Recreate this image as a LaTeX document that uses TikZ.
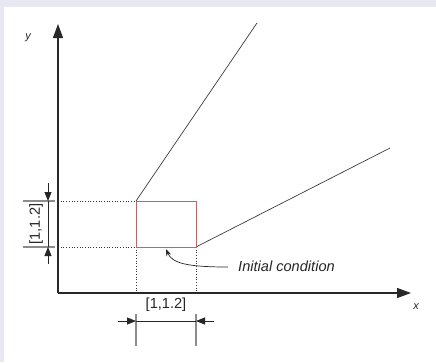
\documentclass[tikz,border=0pt]{standalone}
\usepackage{fontspec}
\setmainfont{Liberation Sans}
\usetikzlibrary{arrows.meta}
\definecolor{bgl}{RGB}{232,232,242}
\definecolor{rectred}{RGB}{192,100,100}
\definecolor{dimgray}{RGB}{140,140,140}
\definecolor{axis}{RGB}{40,40,40}
\tikzset{
  axisline/.style={axis, line width=1.1pt, -{Triangle[length=14pt,width=10pt]}},
  ray/.style={draw=axis!90, line width=0.7pt},
  guide/.style={draw=black!80, dotted, line width=0.7pt},
  tick/.style={draw=dimgray, line width=1.4pt},
  dimline/.style={draw=black!85, line width=0.8pt},
  dimarrow/.style={-{Triangle[length=9pt,width=7pt]}, draw=black!85, line width=0.8pt},
  lbl/.style={font=\fontsize{14.6}{16}\selectfont, inner sep=0pt, text=black!85},
  axlbl/.style={font=\fontsize{11}{13}\selectfont\itshape, inner sep=0pt, text=black!85},
}
\begin{document}
\begin{tikzpicture}[x=1pt,y=-1pt]
\fill[bgl] (0,0) rectangle (436,362);
\fill[white] (4,7) rectangle (436,362);
\useasboundingbox (0,0) rectangle (436,362);
% key points
\coordinate (O) at (58,293);
\coordinate (ytip) at (58,24);
\coordinate (xtip) at (411,293);
\coordinate (A) at (136,201);
\coordinate (B) at (196,201);
\coordinate (C) at (196,247);
\coordinate (D) at (136,247);
\coordinate (R1) at (257,23);
\coordinate (R2) at (390,148);
\coordinate (yA) at (58,201);
\coordinate (yD) at (58,247);
\coordinate (xD) at (136,293);
\coordinate (xC) at (196,293);
% axes
\draw[axisline] (O) -- (ytip);
\draw[axisline] (O) -- (xtip);
\node[axlbl] (ylab) at (28,38) {y};
\node[axlbl] (xlab) at (416,307) {x};
% rays
\draw[ray] (A) -- (R1);
\draw[ray] (C) -- (R2);
% guides
\draw[guide] (yA) -- (A);
\draw[guide] (yD) -- (D);
\draw[guide] (D) -- (xD);
\draw[guide] (C) -- (xC);
% rectangle
\draw[rectred, line width=0.9pt] (A) rectangle (C);
% left dimension
\coordinate (t1a) at (23,201); \coordinate (t1b) at (55,201);
\coordinate (t2a) at (23,247); \coordinate (t2b) at (55,247);
\draw[tick] (t1a) -- (t1b);
\draw[tick] (t2a) -- (t2b);
\coordinate (lv1) at (48,183); \coordinate (lv1t) at (48,201);
\coordinate (lv2) at (48,264); \coordinate (lv2t) at (48,247);
\draw[dimarrow] (lv1) -- (lv1t);
\draw[dimarrow] (lv2) -- (lv2t);
\draw[dimline] (lv1t) -- (lv2t);
\node[lbl, rotate=90] (ldim) at (36,224) {[1,1.2]};
% bottom dimension
\coordinate (b1a) at (136,314); \coordinate (b1b) at (136,346);
\coordinate (b2a) at (196,314); \coordinate (b2b) at (196,346);
\draw[tick] (b1a) -- (b1b);
\draw[tick] (b2a) -- (b2b);
\coordinate (bh1) at (118,321); \coordinate (bh1t) at (136,321);
\coordinate (bh2) at (214,321); \coordinate (bh2t) at (196,321);
\draw[dimarrow] (bh1) -- (bh1t);
\draw[dimarrow] (bh2) -- (bh2t);
\draw[dimline] (bh1t) -- (bh2t);
\node[lbl] (bdim) at (166,305) {[1,1.2]};
% annotation
\node[lbl, font=\fontsize{14.6}{16}\selectfont\itshape, anchor=west] (ic) at (238,266) {Initial condition};
\coordinate (ictip) at (166,249);
\draw[black!85, line width=0.7pt, -{Stealth[length=7pt,width=5pt]}] (ic.west) ++(-10,1) .. controls (186,267) and (172,263) .. (ictip);
\end{tikzpicture}
\end{document}
